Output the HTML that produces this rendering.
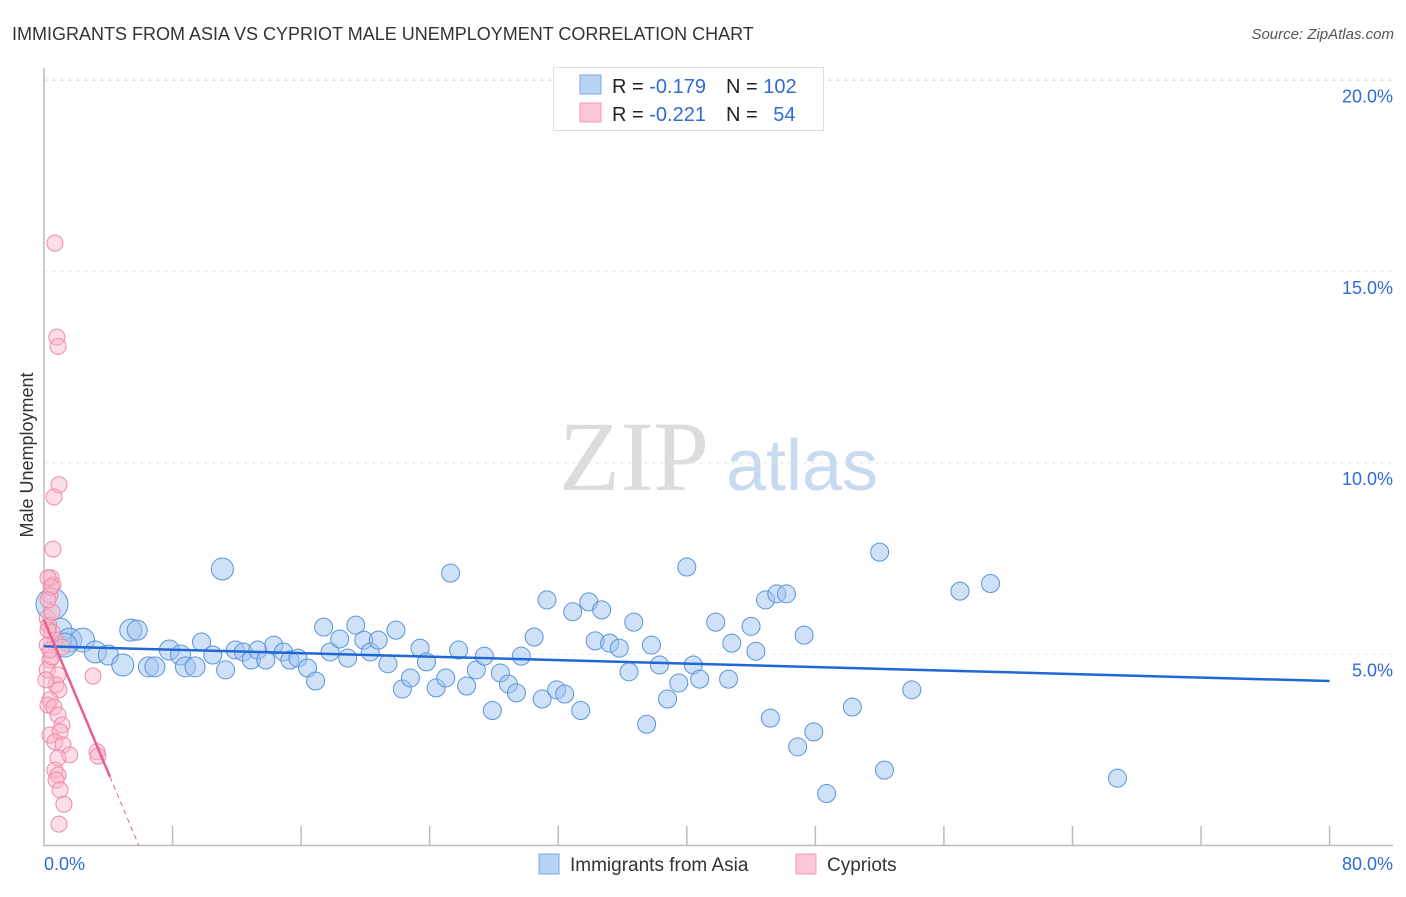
<!DOCTYPE html>
<html><head><meta charset="utf-8"><style>
body{margin:0;background:#fff;font-family:"Liberation Sans",sans-serif}
</style></head><body>
<svg id="c" width="1406" height="892" xmlns="http://www.w3.org/2000/svg" font-family="Liberation Sans, sans-serif">
<text x="12" y="40" font-size="18" fill="#333">IMMIGRANTS FROM ASIA VS CYPRIOT MALE UNEMPLOYMENT CORRELATION CHART</text>
<text x="1394" y="39" font-size="15" fill="#555" font-style="italic" text-anchor="end">Source: ZipAtlas.com</text>
<text x="33" y="455" font-size="18" fill="#333" text-anchor="middle" transform="rotate(-90 33 455)">Male Unemployment</text>
<g>
<text x="634" y="490" font-size="100" fill="#dcdcdc" text-anchor="middle" style="font-family:'Liberation Serif',serif">ZIP</text>
<text x="802" y="490" font-size="72" fill="#c8daf0" text-anchor="middle">atlas</text>
</g>
<g id="grid"></g>
<g id="axes"></g>
<g id="pts"></g>
<g id="trend"></g>
<g>
<rect x="553.5" y="67.5" width="270" height="63" fill="#fff" stroke="#ddd"/>
<rect x="580" y="75" width="21" height="19" fill="#b8d4f5" stroke="#7aa8e6"/>
<rect x="580" y="103" width="21" height="19" fill="#fcc8d8" stroke="#f09ab4"/>
<text x="612" y="93" font-size="20" fill="#222">R = <tspan fill="#2f6bd6">-0.179</tspan></text>
<text x="726" y="93" font-size="20" fill="#222">N = <tspan fill="#2f6bd6">102</tspan></text>
<text x="612" y="121" font-size="20" fill="#222">R = <tspan fill="#2f6bd6">-0.221</tspan></text>
<text x="726" y="121" font-size="20" fill="#222">N = <tspan fill="#2f6bd6" dx="10">54</tspan></text>
</g>
<g>
<rect x="539" y="854" width="20" height="20" fill="#b8d4f5" stroke="#7aa8e6"/>
<text x="570" y="871" font-size="19" fill="#333">Immigrants from Asia</text>
<rect x="796" y="854" width="20" height="20" fill="#fcc8d8" stroke="#f09ab4"/>
<text x="827" y="871" font-size="19" fill="#333">Cypriots</text>
</g>
</svg>
<script>
const yTicks=[5,10,15,20];
const yTickLabels=["5.0%","10.0%","15.0%","20.0%"];
const xTicks=[0,8,16,24,32,40,48,56,64,72,80];
const blueX=[0.5,1.0,1.6,2.4,1.3,3.2,4.0,4.9,5.4,5.8,6.5,6.9,7.8,8.5,8.8,9.4,9.8,10.5,11.1,11.3,11.9,12.4,12.9,13.3,13.8,14.3,14.9,15.3,15.8,16.4,16.9,17.4,17.8,18.4,18.9,19.4,19.9,20.3,20.8,21.4,21.9,22.3,22.8,23.4,23.8,24.4,25.0,25.3,25.8,26.3,26.9,27.4,27.9,28.4,28.9,29.4,29.7,30.5,31.0,31.3,31.9,32.4,32.9,33.4,33.9,34.3,34.7,35.2,35.8,36.4,36.7,37.5,37.8,38.3,38.8,39.5,40.0,40.4,40.8,41.8,42.6,42.8,44.0,44.3,44.9,45.2,45.6,46.2,46.9,47.3,47.9,48.7,50.3,52.0,52.3,54.0,57.0,58.9,66.8];
const blueY=[6.31,5.63,5.37,5.37,5.24,5.06,4.98,4.72,5.63,5.63,4.67,4.67,5.11,4.98,4.67,4.67,5.32,4.98,7.23,4.59,5.11,5.06,4.85,5.11,4.85,5.24,5.06,4.85,4.90,4.64,4.30,5.71,5.06,5.40,4.90,5.76,5.37,5.06,5.37,4.75,5.63,4.09,4.38,5.16,4.80,4.12,4.38,7.12,5.11,4.17,4.59,4.95,3.53,4.51,4.22,3.99,4.95,5.45,3.83,6.42,4.07,3.96,6.11,3.53,6.37,5.35,6.16,5.29,5.16,4.54,5.84,3.17,5.24,4.72,3.83,4.25,7.28,4.72,4.35,5.84,4.35,5.29,5.73,5.08,6.42,3.33,6.58,6.58,2.58,5.50,2.97,1.36,3.62,7.67,1.97,4.07,6.65,6.85,1.76];
const blueR=[16,12,12,12,12,11,10,11,11,10,10,10,10,10,10,10,9,9,11,9,9,9,9,9,9,9,9,9,9,9,9,9,9,9,9,9,9,9,9,9,9,9,9,9,9,9,9,9,9,9,9,9,9,9,9,9,9,9,9,9,9,9,9,9,9,9,9,9,9,9,9,9,9,9,9,9,9,9,9,9,9,9,9,9,9,9,9,9,9,9,9,9,9,9,9,9,9,9,9];
const pinkX=[0.44,0.56,0.37,0.2,0.3,0.5,0.68,0.2,1.12,0.37,0.2,0.87,0.75,0.93,3.05,0.37,0.25,0.62,0.87,1.12,0.37,1.0,0.68,1.18,0.87,1.6,3.3,3.36,0.68,0.87,0.75,1.0,1.24,0.93,0.68,0.8,0.87,0.93,0.62,0.56,0.25,0.44,0.5,0.25,0.37,0.12,0.5,0.25];
const pinkY=[7.0,6.81,6.55,5.95,5.76,5.58,5.37,5.24,5.19,4.85,4.59,4.46,4.2,4.07,4.43,3.81,3.67,3.62,3.41,3.15,2.89,2.97,2.71,2.63,2.29,2.37,2.45,2.34,1.97,1.84,1.71,1.45,1.08,0.56,15.75,13.29,13.05,9.43,9.11,7.75,7.0,6.76,4.93,5.63,5.11,4.33,6.1,6.42];
const blueTrend=[5.21,4.3];
const pinkTrend=[5.9,-1.0];
const X=v=>44+v*16.07, Y=v=>845.5-v*38.25;
const NS="http://www.w3.org/2000/svg";
function mk(p,t,a){const e=document.createElementNS(NS,t);for(const k in a)e.setAttribute(k,a[k]);document.getElementById(p).appendChild(e);return e;}
yTicks.forEach((t,i)=>{
 const l=mk('grid','line',{x1:44,x2:1393,y1:Y(t),y2:Y(t),stroke:'#e2e2e2','stroke-dasharray':'3 5'});
 
 
 const tx=mk('grid','text',{x:1393,y:Y(t)+22,'font-size':18,fill:'#2f6bd6','text-anchor':'end'});tx.textContent=yTickLabels[i];
 
 
});
const tl=mk('grid','line',{x1:44,x2:1393,y1:79,y2:79,stroke:'#e2e2e2','stroke-dasharray':'3 5'});


const ax=mk('axes','path',{d:'M44 68V845.5H1393',fill:'none',stroke:'#bbb','stroke-width':1.5});


xTicks.forEach(t=>{if(t===0)return;const l=mk('axes','line',{x1:X(t),x2:X(t),y1:826,y2:845,stroke:'#bbb','stroke-width':1.5});
 
 });
const x0=mk('axes','text',{x:44,y:870,'font-size':18,fill:'#2f6bd6'});x0.textContent='0.0%';


const x1=mk('axes','text',{x:1393,y:870,'font-size':18,fill:'#2f6bd6','text-anchor':'end'});x1.textContent='80.0%';


blueX.forEach((v,i)=>{const c=mk('pts','circle',{cx:X(v),cy:Y(blueY[i]),r:blueR[i]||9,fill:'rgba(160,196,240,0.5)',stroke:'#5b93dc','stroke-width':1});
 
 });
pinkX.forEach((v,i)=>{const c=mk('pts','circle',{cx:X(v),cy:Y(pinkY[i]),r:8,fill:'rgba(250,180,200,0.45)',stroke:'#ee8aa8','stroke-width':1});
 
 });
const bt=mk('trend','line',{x1:X(0),y1:Y(blueTrend[0]),x2:X(80),y2:Y(blueTrend[1]),stroke:'#2068d6','stroke-width':2.5});


const pe=4.1, pz=-pinkTrend[0]/pinkTrend[1];
const pt=mk('trend','line',{x1:X(0),y1:Y(pinkTrend[0]),x2:X(pe),y2:Y(pinkTrend[0]+pinkTrend[1]*pe),stroke:'#e8608a','stroke-width':2.5});


const pd=mk('trend','line',{x1:X(pe),y1:Y(pinkTrend[0]+pinkTrend[1]*pe),x2:X(pz),y2:Y(0),stroke:'#e8608a','stroke-width':1,'stroke-dasharray':'5 4'});


</script>
</body></html>
